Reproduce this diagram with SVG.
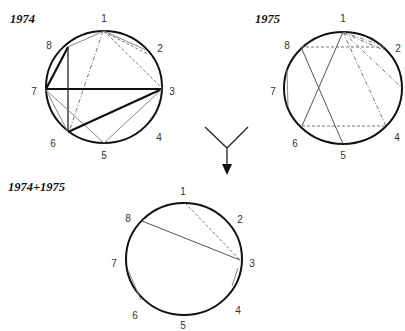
<svg xmlns="http://www.w3.org/2000/svg" width="405" height="331" viewBox="0 0 405 331">
<style>
.c{fill:none;stroke:#111;stroke-width:2}
.b{stroke:#111;stroke-width:2.2;fill:none}
.m{stroke:#222;stroke-width:1.3;fill:none}
.g{stroke:#888;stroke-width:1;fill:none}
.gd{stroke:#555;stroke-width:1;fill:none}
.d{stroke:#777;stroke-width:1;stroke-dasharray:3,2;fill:none}
.dd{stroke:#777;stroke-width:1;stroke-dasharray:4,2,1,2;fill:none}
.n{font-family:"Liberation Sans",Arial,sans-serif;font-size:10px;fill:#333;text-anchor:middle}
.t{font-family:"Liberation Serif","Times New Roman",serif;font-size:12.5px;font-weight:bold;font-style:italic;fill:#111}
</style>
<rect width="405" height="331" fill="#fff"/>
<g id="diagram1974">
<text class="t" x="10" y="23">1974</text>
<ellipse class="c" cx="104" cy="87" rx="58" ry="56"/>
<text class="n" x="104" y="22">1</text>
<text class="n" x="160" y="52">2</text>
<text class="n" x="172" y="95">3</text>
<text class="n" x="159" y="141">4</text>
<text class="n" x="104" y="159">5</text>
<text class="n" x="53" y="147">6</text>
<text class="n" x="34" y="95">7</text>
<text class="n" x="49" y="49">8</text>
</g>
<g id="diagram1975">
<text class="t" x="255" y="23">1975</text>
<ellipse class="c" cx="343" cy="88" rx="59" ry="56"/>
<text class="n" x="343" y="22">1</text>
<text class="n" x="398" y="52">2</text>
<text class="n" x="397" y="141">4</text>
<text class="n" x="343" y="159">5</text>
<text class="n" x="295" y="147">6</text>
<text class="n" x="273" y="95">7</text>
<text class="n" x="287" y="49">8</text>
</g>
<g id="diagramSum">
<text class="t" x="8" y="191">1974+1975</text>
<ellipse class="c" cx="184" cy="259" rx="58" ry="56"/>
<text class="n" x="183" y="195">1</text>
<text class="n" x="240" y="223">2</text>
<text class="n" x="252" y="267">3</text>
<text class="n" x="238" y="314">4</text>
<text class="n" x="183" y="328.5">5</text>
<text class="n" x="135" y="319">6</text>
<text class="n" x="114" y="267">7</text>
<text class="n" x="128" y="222">8</text>
</g>
<g id="merge-arrow">
<path class="m" d="M205,127 L227,148 L248,127 M227,148 L227,166"/>
<polygon points="222,164 232,164 227,175" fill="#111"/>
</g>
<g id="connectors">
<path class="g" d="M104,31 L146,50"/>
<path class="d" d="M104,32 L148,54"/>
<path class="d" d="M104,31 L162,88"/>
<path class="g" d="M104,31 L68,47"/>
<path class="dd" d="M103,31 L69,132"/>
<path class="b" d="M68,47 L46,89"/>
<path class="m" d="M68,47 L68,132"/>
<path class="b" d="M46,89 L162,89"/>
<path class="g" d="M46,90 L68,132"/>
<path class="g" d="M46,90 L104,143"/>
<path class="b" d="M68,132 L162,89"/>
<path class="g" d="M104,143 L162,89"/>
<path class="d" d="M301,47 L384,47"/>
<path class="d" d="M302,126 L386,126"/>
<path class="dd" d="M343,32 L383,46"/>
<path class="dd" d="M344,33 L386,51"/>
<path class="dd" d="M343,32 L402,88"/>
<path class="dd" d="M343,32 L386,126"/>
<path class="gd" d="M343,32 L302,126"/>
<path class="gd" d="M301,47 L343,144"/>
<path class="g" d="M287,70 L288,106"/>
<path class="d" d="M185,203 L240,260"/>
<path class="gd" d="M142,221 L240,260"/>
<path class="g" d="M128,270 L141,300"/>
<path class="g" d="M238,268 L232,286"/>
</g>
</svg>
